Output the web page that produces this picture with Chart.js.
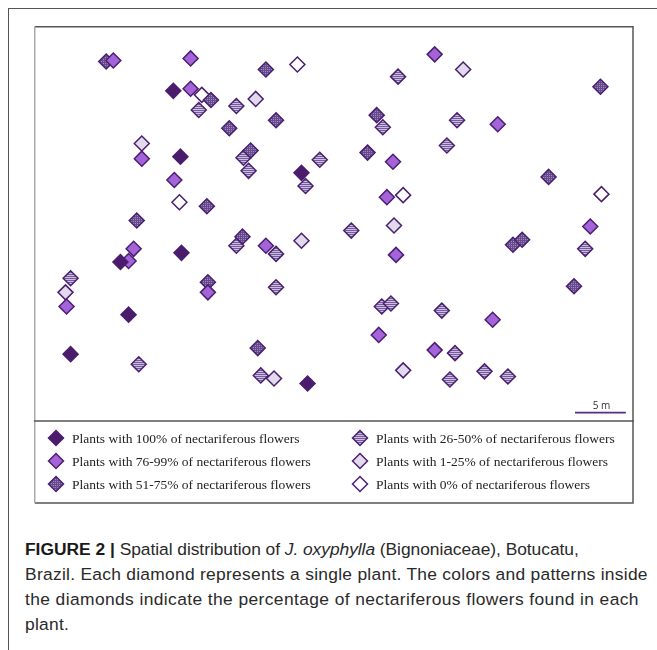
<!DOCTYPE html>
<html>
<head>
<meta charset="utf-8">
<script src="https://cdn.jsdelivr.net/npm/chart.js@4"></script>
<style>
  body { margin: 0; background: #fff; width: 657px; height: 650px; position: relative; overflow: hidden; }
  #frame { position: absolute; left: 8px; top: 8px; width: 660px; height: 660px; border-left: 1.5px solid #555; border-top: 1.5px solid #555; }
  #map { position: absolute; left: 34px; top: 26px; }
  .cap { position: absolute; left: 25px; font-family: "Liberation Sans", Arial, sans-serif; font-size: 17.4px; letter-spacing: 0.28px; color: #2a2a2a; white-space: nowrap; }
  .cap b { font-weight: bold; color: #1a1a1a; letter-spacing: 0; }
</style>
</head>
<body>
<div id="frame"></div>
<canvas id="map" width="600" height="478"></canvas>
<div class="cap" style="top:539px; letter-spacing:-0.05px"><b>FIGURE 2 |</b> Spatial distribution of <i>J. oxyphylla</i> (Bignoniaceae), Botucatu,</div>
<div class="cap" style="top:564px">Brazil. Each diamond represents a single plant. The colors and patterns inside</div>
<div class="cap" style="top:589px; letter-spacing:0.4px">the diamonds indicate the percentage of nectariferous flowers found in each</div>
<div class="cap" style="top:614px">plant.</div>
<script>
// plant positions in metres (x east, y north)
const categories = [
  'Plants with 100% of nectariferous flowers',
  'Plants with 76-99% of nectariferous flowers',
  'Plants with 51-75% of nectariferous flowers',
  'Plants with 26-50% of nectariferous flowers',
  'Plants with 1-25% of nectariferous flowers',
  'Plants with 0% of nectariferous flowers'
];

const plants100 = [[13.7, 32.6], [14.4, 26.1], [26.3, 24.5], [8.5, 15.7], [14.5, 16.6], [9.3, 10.5], [3.6, 6.6], [26.9, 3.7]];

const plants76 = [[7.8, 35.6], [15.4, 35.8], [15.4, 32.8], [10.6, 25.9], [13.8, 23.8], [9.8, 17.0], [9.3, 15.8],
  [3.2, 11.3], [17.1, 12.7], [22.8, 17.3], [39.4, 36.2], [45.6, 29.3], [35.3, 25.6], [34.7, 22.1], [35.6, 16.4],
  [54.7, 19.2], [45.1, 10.0], [33.9, 8.5], [39.4, 7.0]];

const plants51 = [[7.1, 35.5], [22.8, 34.7], [17.4, 31.7], [23.8, 29.7], [19.2, 28.9], [21.3, 26.7], [17.0, 21.2],
  [10.1, 19.8], [20.5, 18.2], [17.1, 13.7], [22.0, 7.2], [55.7, 33.0], [33.7, 30.2], [32.8, 26.5], [50.6, 24.1],
  [47.1, 17.4], [48.0, 17.9], [53.1, 13.3]];

const plants26 = [[16.2, 30.7], [19.9, 31.1], [20.6, 26.0], [21.1, 24.7], [28.1, 25.8], [26.7, 23.2], [19.9, 17.3],
  [23.8, 16.5], [3.6, 14.1], [23.8, 13.2], [10.3, 5.6], [22.3, 4.5], [35.8, 34.0], [34.3, 29.0], [41.6, 29.7],
  [40.6, 27.2], [31.2, 18.8], [54.2, 17.0], [34.2, 11.3], [35.1, 11.6], [40.1, 10.9], [41.4, 6.7], [40.9, 4.1],
  [44.3, 4.9], [46.6, 4.4]];

const plants1 = [[21.8, 31.8], [10.6, 27.4], [26.3, 17.8], [3.1, 12.7], [23.6, 4.2], [42.2, 34.7], [35.4, 19.3], [36.3, 5.0]];

const plants0 = [[25.9, 35.2], [16.5, 32.2], [14.3, 21.6], [36.3, 22.3], [55.8, 22.4]];

const mapWidth = 59;   // metres
const mapHeight = 39;
const scaleBar = [53.2, 58.2]; // 5 m bar

const outline = '#4a1f6e';

function makePattern(bg, fg, grid) {
  const c = document.createElement('canvas');
  c.width = 2; c.height = 2;
  const g = c.getContext('2d');
  g.fillStyle = bg;
  g.fillRect(0, 0, 2, 2);
  g.fillStyle = fg;
  g.fillRect(0, 0, 2, 1);
  if (grid) g.fillRect(0, 0, 1, 2);
  return g.createPattern(c, 'repeat');
}

const ctxMap = document.getElementById('map').getContext('2d');
const fills = [
  '#4b1c6c',
  '#a463d8',
  makePattern('#a08cbe', '#654a8e', true),
  makePattern('#cbbfe0', '#765c9c', false),
  '#e2d9ec',
  '#ffffff'
];
const seriesData = [plants100, plants76, plants51, plants26, plants1, plants0];

const toPoints = arr => arr.map(p => ({ x: p[0], y: p[1] }));

const frameAndLegend = {
  id: 'frameAndLegend',
  afterDraw(chart) {
    const ctx = chart.ctx;
    const area = chart.chartArea;
    const W = chart.width, H = chart.height;
    ctx.save();
    // outer box
    ctx.lineWidth = 1.5;
    ctx.strokeStyle = '#555';
    ctx.beginPath();
    ctx.moveTo(0.75, 0.75); ctx.lineTo(W - 1, 0.75);
    ctx.lineTo(W - 1, H - 1); ctx.lineTo(0.75, H - 1);
    ctx.stroke();
    ctx.strokeStyle = '#aaa';
    ctx.beginPath();
    ctx.moveTo(0.75, 0.75); ctx.lineTo(0.75, H - 1);
    ctx.stroke();
    ctx.strokeStyle = '#555';
    ctx.beginPath();
    ctx.moveTo(0, area.bottom); ctx.lineTo(W, area.bottom);
    ctx.stroke();

    // 5 m scale bar
    const xs = chart.scales.x, ys = chart.scales.y;
    const bx0 = xs.getPixelForValue(scaleBar[0]);
    const bx1 = xs.getPixelForValue(scaleBar[1]);
    const by = ys.getPixelForValue(0.82);
    ctx.strokeStyle = '#5b2a86';
    ctx.lineWidth = 1.8;
    ctx.beginPath();
    ctx.moveTo(bx0, by); ctx.lineTo(bx1, by);
    ctx.stroke();
    ctx.fillStyle = '#333';
    ctx.font = '10px "Open Sans", sans-serif';
    ctx.textAlign = 'center';
    ctx.textBaseline = 'bottom';
    ctx.fillText('5 m', (bx0 + bx1) / 2 + 1, by - 2);

    // legend, two columns of three
    ctx.font = '13.5px "Liberation Serif", serif';
    ctx.textAlign = 'left';
    ctx.textBaseline = 'middle';
    const rows = [area.bottom + 17, area.bottom + 40, area.bottom + 63];
    const cols = [22, 326];
    categories.forEach((label, i) => {
      const col = Math.floor(i / 3), row = i % 3;
      const mx = cols[col], my = rows[row];
      ctx.fillStyle = fills[i];
      ctx.strokeStyle = outline;
      ctx.lineWidth = 1.5;
      Chart.helpers.drawPoint(ctx, { pointStyle: 'rectRot', radius: 7.5, borderWidth: 1.5 }, mx, my);
      ctx.fillStyle = '#222';
      ctx.fillText(label, mx + 16, my + 1);
    });
    ctx.restore();
  }
};

new Chart(ctxMap, {
  type: 'scatter',
  data: {
    datasets: categories.map((label, i) => ({
      label: label,
      data: toPoints(seriesData[i]),
      pointStyle: 'rectRot',
      pointRadius: 7.5,
      pointHoverRadius: 7.5,
      backgroundColor: fills[i],
      borderColor: outline,
      borderWidth: 1.5,
      clip: false
    }))
  },
  options: {
    responsive: false,
    animation: false,
    layout: { autoPadding: false, padding: { top: 0, left: 0, right: 0, bottom: 83 } },
    scales: {
      x: { type: 'linear', min: 0, max: mapWidth, display: false },
      y: { type: 'linear', min: 0, max: mapHeight, display: false }
    },
    plugins: {
      legend: { display: false },
      tooltip: { enabled: false }
    }
  },
  plugins: [frameAndLegend]
});
</script>
</body>
</html>
